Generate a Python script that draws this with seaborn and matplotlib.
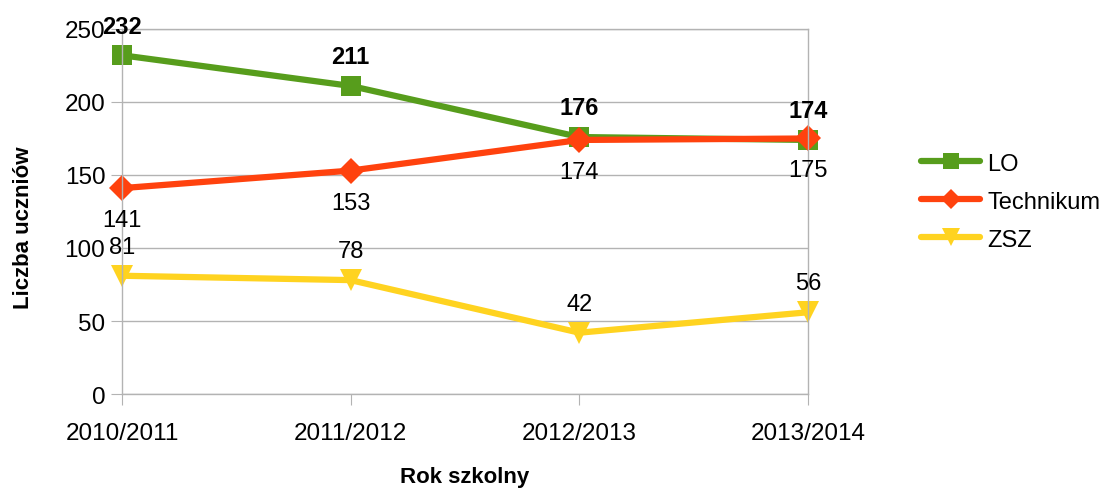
import pandas as pd
import numpy as np
import matplotlib.pyplot as plt
import seaborn as sns

# Data
years = ['2010/2011', '2011/2012', '2012/2013', '2013/2014']
lo = [232, 211, 176, 174]
technikum = [141, 153, 174, 175]
zsz = [81, 78, 42, 56]

# label values shown on the chart
lo_labels = [232, 211, 176, 174]
tech_labels = [141, 153, 174, 175]
zsz_labels = [81, 78, 42, 56]

sns.set_style("white")
plt.rcParams['font.family'] = ['Liberation Sans', 'DejaVu Sans']
plt.rcParams['text.color'] = 'black'
plt.rcParams['axes.labelcolor'] = 'black'

df = pd.DataFrame({'idx': np.arange(len(years)), 'LO': lo,
                   'Technikum': technikum, 'ZSZ': zsz})

fig = plt.figure(figsize=(11.11, 4.89), dpi=100)
ax = fig.add_axes([0.1098, 0.1922, 0.6175, 0.7465])

series = [('LO', '#579D1C', 's', 14.5),
          ('Technikum', '#FF420E', 'D', 13),
          ('ZSZ', '#FFD320', 'v', 15.5)]
for name, col, mk, ms in series:
    sns.lineplot(data=df, x='idx', y=name, ax=ax, color=col, marker=mk,
                 markersize=ms, markeredgewidth=0, linewidth=4.5, label=name)
for ln in ax.lines:
    ln.set_clip_on(False)

# data labels
for i in range(len(years)):
    ax.annotate(str(lo_labels[i]), (i, lo[i]), xytext=(0, 21), textcoords='offset points',
                ha='center', va='center', fontsize=17, fontweight='bold', color='black')
    ax.annotate(str(tech_labels[i]), (i, technikum[i]), xytext=(0, -23), textcoords='offset points',
                ha='center', va='center', fontsize=17, color='black')
    ax.annotate(str(zsz_labels[i]), (i, zsz[i]), xytext=(0, 21), textcoords='offset points',
                ha='center', va='center', fontsize=17, color='black')

ax.set_xlim(0, 3)
ax.set_ylim(0, 250)
ax.set_yticks(range(0, 251, 50))
ax.set_xticks(range(len(years)))
ax.set_xticklabels(years)
ax.grid(axis='y', color='#b3b3b3', linewidth=1)
ax.set_axisbelow(True)
for s in ax.spines.values():
    s.set_color('#b3b3b3')
    s.set_linewidth(1)
ax.tick_params(axis='both', direction='out', length=8, color='#b3b3b3',
               labelsize=17.5, labelcolor='black', left=True, bottom=True)
ax.tick_params(axis='x', pad=12)
ax.tick_params(axis='y', pad=4)

ax.set_xlabel('Rok szkolny', fontsize=16, fontweight='bold', labelpad=16, color='black')
ax.set_ylabel('Liczba uczniów', fontsize=16, fontweight='bold', color='black')
ax.yaxis.set_label_coords(-0.128, 0.4575)

leg = ax.legend(loc='center left', bbox_to_anchor=(1.134, 0.527), frameon=False,
                fontsize=17, handlelength=2.5, labelspacing=0.68, handletextpad=0.3,
                markerscale=0.8)
for t in leg.get_texts():
    t.set_color('black')

plt.savefig('out.png', dpi=100)
